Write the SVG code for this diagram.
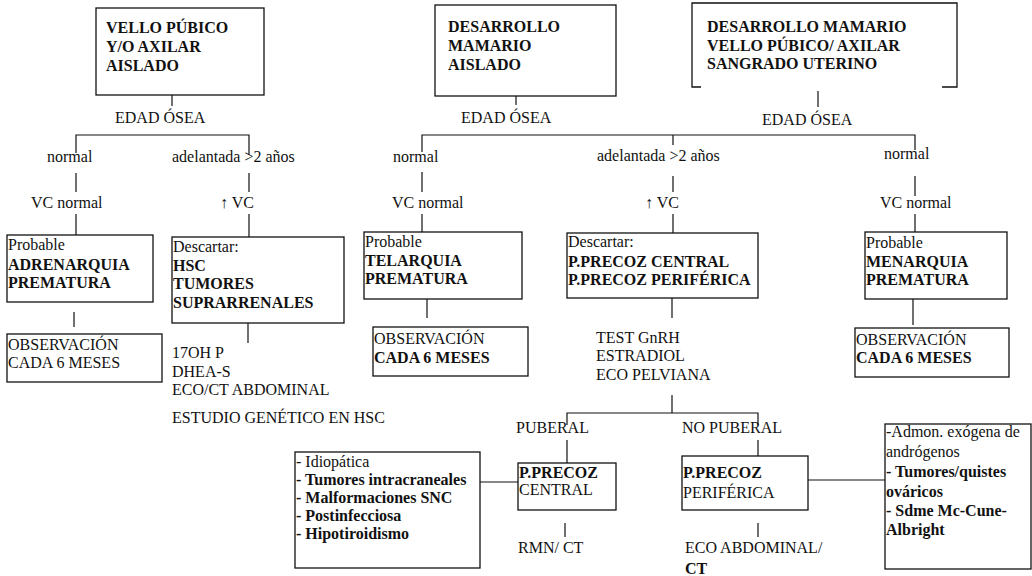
<svg xmlns="http://www.w3.org/2000/svg" width="1032" height="576" viewBox="0 0 1032 576">
  <style>
    text { font-family: "Liberation Serif", "Times New Roman", serif; font-size: 16px; fill: #111; }
    .b { font-weight: bold; }
    .box { fill: none; stroke: #111; stroke-width: 1.3; }
    .ln { fill: none; stroke: #111; stroke-width: 1.2; }
  </style>
  <rect width="1032" height="576" fill="#fff"/>

  <!-- connectors -->
  <g id="connectors" class="ln">
    <!-- left tree -->
    <path d="M172,95 V106"/>
    <path d="M76,153 V135 H249 V155"/>
    <path d="M76,173 V192 M76,214 V235"/>
    <path d="M74,312 V327"/>
    <path d="M249,173 V192 M249,214 V237"/>
    <path d="M248,323 V343"/>
    <!-- middle tree -->
    <path d="M516,96 V105"/>
    <path d="M422,152 V135 H915 V150 M673,135 V145"/>
    <path d="M422,172 V192 M422,214 V232"/>
    <path d="M427,299 V318"/>
    <path d="M673,176 V192 M673,214 V233"/>
    <path d="M672,298 V318"/>
    <path d="M672,395 V413"/>
    <path d="M567,425 V413 H758 V425"/>
    <path d="M567,440 V463"/>
    <path d="M565,523 V537"/>
    <path d="M480,482 H518"/>
    <path d="M758,440 V456"/>
    <path d="M758,523 V537"/>
    <path d="M808,480 H885"/>
    <!-- right tree -->
    <path d="M818,91 V107"/>
    <path d="M915,176 V196 M915,214 V232"/>
    <path d="M913,299 V325"/>
  </g>

  <!-- header boxes -->
  <g id="n-vello">
    <rect class="box" x="96" y="8" width="168" height="87"/>
    <text class="b" x="106" y="33">VELLO PÚBICO</text>
    <text class="b" x="106" y="52">Y/O AXILAR</text>
    <text class="b" x="106" y="71">AISLADO</text>
  </g>
  <g id="n-mamario">
    <rect class="box" x="435" y="5" width="181" height="91"/>
    <text class="b" x="448" y="32">DESARROLLO</text>
    <text class="b" x="448" y="51">MAMARIO</text>
    <text class="b" x="448" y="70">AISLADO</text>
  </g>
  <g id="n-completo">
    <path class="box" d="M701,87 H692 V3 H957 V87 H942"/>
    <text class="b" x="707" y="32">DESARROLLO MAMARIO</text>
    <text class="b" x="707" y="51">VELLO PÚBICO/ AXILAR</text>
    <text class="b" x="707" y="69">SANGRADO UTERINO</text>
  </g>

  <!-- branch labels -->
  <g id="labels">
    <text x="115" y="123">EDAD ÓSEA</text>
    <text x="461" y="123">EDAD ÓSEA</text>
    <text x="762" y="125">EDAD ÓSEA</text>
    <text x="47" y="162">normal</text>
    <text x="172" y="162">adelantada &gt;2 años</text>
    <text x="393" y="162">normal</text>
    <text x="597" y="161">adelantada &gt;2 años</text>
    <text x="884" y="159">normal</text>
    <text x="31" y="208">VC normal</text>
    <text x="220" y="208">↑ VC</text>
    <text x="392" y="208">VC normal</text>
    <text x="645" y="208">↑ VC</text>
    <text x="880" y="208">VC normal</text>
  </g>

  <!-- left column -->
  <g id="n-adrenarquia">
    <rect class="box" x="7" y="235" width="146" height="67"/>
    <text x="8" y="250">Probable</text>
    <text class="b" x="8" y="270">ADRENARQUIA</text>
    <text class="b" x="8" y="288">PREMATURA</text>
  </g>
  <g id="n-obs1">
    <rect class="box" x="7" y="334" width="155" height="48"/>
    <text x="8" y="350">OBSERVACIÓN</text>
    <text x="8" y="368">CADA 6 MESES</text>
  </g>
  <g id="n-descartar-hsc">
    <rect class="box" x="172" y="237" width="172" height="86"/>
    <text x="173" y="252">Descartar:</text>
    <text class="b" x="173" y="271">HSC</text>
    <text class="b" x="173" y="289">TUMORES</text>
    <text class="b" x="173" y="308">SUPRARRENALES</text>
  </g>
  <g id="n-estudios-hsc">
    <text x="172" y="358">17OH P</text>
    <text x="172" y="377">DHEA-S</text>
    <text x="172" y="395">ECO/CT ABDOMINAL</text>
    <text x="172" y="423">ESTUDIO GENÉTICO EN HSC</text>
  </g>

  <!-- middle column -->
  <g id="n-telarquia">
    <rect class="box" x="364" y="232" width="158" height="67"/>
    <text x="365" y="247">Probable</text>
    <text class="b" x="365" y="266">TELARQUIA</text>
    <text class="b" x="365" y="284">PREMATURA</text>
  </g>
  <g id="n-obs2">
    <rect class="box" x="373" y="327" width="155" height="49"/>
    <text x="374" y="344">OBSERVACIÓN</text>
    <text class="b" x="374" y="363">CADA 6 MESES</text>
  </g>
  <g id="n-descartar-pp">
    <rect class="box" x="567" y="233" width="191" height="65"/>
    <text x="568" y="247">Descartar:</text>
    <text class="b" x="568" y="267">P.PRECOZ CENTRAL</text>
    <text class="b" x="568" y="285">P.PRECOZ PERIFÉRICA</text>
  </g>
  <g id="n-tests">
    <text x="596" y="343">TEST GnRH</text>
    <text x="596" y="361">ESTRADIOL</text>
    <text x="596" y="380">ECO PELVIANA</text>
  </g>
  <g id="n-puberal-labels">
    <text x="516" y="433">PUBERAL</text>
    <text x="682" y="433">NO PUBERAL</text>
  </g>
  <g id="n-central">
    <rect class="box" x="518" y="463" width="98" height="47"/>
    <text class="b" x="519" y="478">P.PRECOZ</text>
    <text x="519" y="495">CENTRAL</text>
  </g>
  <g id="n-rmn">
    <text x="518" y="553">RMN/ CT</text>
  </g>
  <g id="n-causas-central">
    <rect class="box" x="295" y="452" width="185" height="116"/>
    <text x="296" y="467">- Idiopática</text>
    <text class="b" x="296" y="485">- Tumores intracraneales</text>
    <text class="b" x="296" y="503">- Malformaciones SNC</text>
    <text class="b" x="296" y="521">- Postinfecciosa</text>
    <text class="b" x="296" y="539">- Hipotiroidismo</text>
  </g>
  <g id="n-periferica">
    <rect class="box" x="682" y="456" width="126" height="54"/>
    <text class="b" x="683" y="478">P.PRECOZ</text>
    <text x="683" y="498">PERIFÉRICA</text>
  </g>
  <g id="n-eco-abd">
    <text x="685" y="553">ECO ABDOMINAL/</text>
    <text class="b" x="685" y="574">CT</text>
  </g>
  <g id="n-causas-periferica">
    <rect class="box" x="885" y="424" width="146" height="145"/>
    <text x="886" y="437">-Admon. exógena de</text>
    <text x="886" y="457">andrógenos</text>
    <text class="b" x="886" y="477">- Tumores/quistes</text>
    <text class="b" x="886" y="497">ováricos</text>
    <text class="b" x="886" y="516">- Sdme Mc-Cune-</text>
    <text class="b" x="886" y="535">Albright</text>
  </g>

  <!-- right column -->
  <g id="n-menarquia">
    <rect class="box" x="865" y="232" width="142" height="67"/>
    <text x="866" y="248">Probable</text>
    <text class="b" x="866" y="267">MENARQUIA</text>
    <text class="b" x="866" y="285">PREMATURA</text>
  </g>
  <g id="n-obs3">
    <rect class="box" x="855" y="328" width="154" height="49"/>
    <text x="856" y="345">OBSERVACIÓN</text>
    <text class="b" x="856" y="363">CADA 6 MESES</text>
  </g>
</svg>
